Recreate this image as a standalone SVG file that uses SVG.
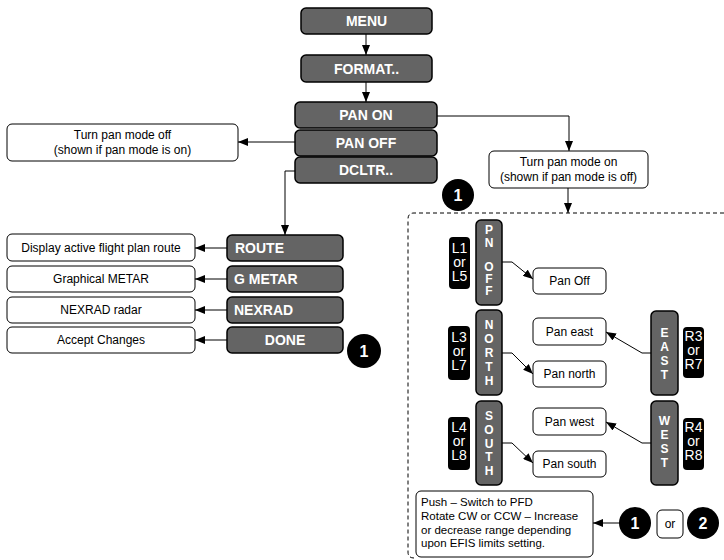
<svg xmlns="http://www.w3.org/2000/svg" width="724" height="560" viewBox="0 0 724 560">
<style>
.btn{fill:#646464;stroke:#000;stroke-width:1.5}
.bt{font-family:"Liberation Sans",Arial,sans-serif;font-weight:bold;font-size:14px;fill:#fff;text-anchor:middle}
.btl{font-family:"Liberation Sans",Arial,sans-serif;font-weight:bold;font-size:14px;fill:#fff}
.vt{font-family:"Liberation Sans",Arial,sans-serif;font-weight:bold;font-size:12px;fill:#fff;text-anchor:middle}
.box{fill:#fff;stroke:#000;stroke-width:1}
.tx{font-family:"Liberation Sans",Arial,sans-serif;font-size:12px;fill:#000;text-anchor:middle}
.txl{font-family:"Liberation Sans",Arial,sans-serif;font-size:11.5px;fill:#000}
.blk{fill:#000}
.kt{font-family:"Liberation Sans",Arial,sans-serif;font-size:14px;fill:#fff;text-anchor:middle}
.bd{font-family:"Liberation Sans",Arial,sans-serif;font-weight:bold;font-size:16px;fill:#fff;text-anchor:middle}
.ln{fill:none;stroke:#000;stroke-width:1;marker-end:url(#ah)}
</style>
<defs>
<marker id="ah" viewBox="0 0 10 8" refX="10" refY="4" markerWidth="10" markerHeight="8" markerUnits="userSpaceOnUse" orient="auto">
<path d="M0,0 L10,4 L0,8 Z" fill="#000"/>
</marker>
</defs>

<path d="M724,213 H414 Q408,213 408,219 V552 Q408,558 414,558" fill="none" stroke="#000" stroke-width="1" stroke-dasharray="4,3"/>

<g id="menu"><rect class="btn" x="301" y="8" width="131" height="26" rx="5"/><text class="bt" x="366.5" y="26">MENU</text></g>
<g id="format"><rect class="btn" x="301" y="55" width="131" height="27" rx="5"/><text class="bt" x="366.5" y="73.5">FORMAT..</text></g>
<g id="panon"><rect class="btn" x="295" y="102" width="142" height="26" rx="5"/><text class="bt" x="366" y="120">PAN ON</text></g>
<g id="panoff"><rect class="btn" x="295" y="130" width="142" height="26" rx="5"/><text class="bt" x="366" y="148">PAN OFF</text></g>
<g id="dcltr"><rect class="btn" x="295" y="157" width="142" height="26" rx="5"/><text class="bt" x="366" y="175">DCLTR..</text></g>

<g id="turnoff"><rect class="box" x="7" y="124" width="231" height="37" rx="5"/><text class="tx" x="122.5" y="139">Turn pan mode off<tspan x="122.5" y="154">(shown if pan mode is on)</tspan></text></g>
<g id="turnon"><rect class="box" x="489" y="151" width="159" height="37" rx="5"/><text class="tx" x="568.5" y="166">Turn pan mode on<tspan x="568.5" y="181">(shown if pan mode is off)</tspan></text></g>

<g id="route"><rect class="btn" x="227" y="235" width="116" height="26" rx="5"/><text class="btl" x="235" y="253">ROUTE</text></g>
<g id="gmetar"><rect class="btn" x="227" y="266" width="116" height="26" rx="5"/><text class="btl" x="234" y="284">G METAR</text></g>
<g id="nexrad"><rect class="btn" x="227" y="297" width="116" height="26" rx="5"/><text class="btl" x="234" y="315">NEXRAD</text></g>
<g id="done"><rect class="btn" x="227" y="327" width="116" height="26" rx="5"/><text class="bt" x="285" y="345">DONE</text></g>

<g id="t-route"><rect class="box" x="7" y="234" width="188" height="27" rx="5"/><text class="tx" x="101" y="252">Display active flight plan route</text></g>
<g id="t-gmetar"><rect class="box" x="7" y="266" width="188" height="26" rx="5"/><text class="tx" x="101" y="283">Graphical METAR</text></g>
<g id="t-nexrad"><rect class="box" x="7" y="297" width="188" height="26" rx="5"/><text class="tx" x="101" y="314">NEXRAD radar</text></g>
<g id="t-done"><rect class="box" x="7" y="327" width="188" height="26" rx="5"/><text class="tx" x="101" y="344">Accept Changes</text></g>

<g id="badge1a"><circle class="blk" cx="364" cy="351" r="17"/><text class="bd" x="364" y="357">1</text></g>
<g id="badge1b"><circle class="blk" cx="458" cy="195" r="16"/><text class="bd" x="458" y="201">1</text></g>

<g id="pnoff"><rect class="btn" x="476" y="220" width="26" height="85" rx="5"/>
<text class="vt" x="489" y="234">P<tspan x="489" y="247">N</tspan><tspan x="489" y="271">O</tspan><tspan x="489" y="283">F</tspan><tspan x="489" y="295">F</tspan></text></g>
<g id="north"><rect class="btn" x="476" y="310" width="26" height="85" rx="5"/>
<text class="vt" x="489" y="329">N<tspan x="489" y="343">O</tspan><tspan x="489" y="357">R</tspan><tspan x="489" y="371">T</tspan><tspan x="489" y="385">H</tspan></text></g>
<g id="south"><rect class="btn" x="476" y="401" width="26" height="84" rx="5"/>
<text class="vt" x="489" y="420">S<tspan x="489" y="434">O</tspan><tspan x="489" y="448">U</tspan><tspan x="489" y="461">T</tspan><tspan x="489" y="475">H</tspan></text></g>
<g id="east"><rect class="btn" x="651" y="311" width="27" height="84" rx="5"/>
<text class="vt" x="664.5" y="337">E<tspan x="664.5" y="351">A</tspan><tspan x="664.5" y="365">S</tspan><tspan x="664.5" y="379">T</tspan></text></g>
<g id="west"><rect class="btn" x="651" y="401" width="27" height="84" rx="5"/>
<text class="vt" x="664.5" y="425">W<tspan x="664.5" y="439">E</tspan><tspan x="664.5" y="453">S</tspan><tspan x="664.5" y="467">T</tspan></text></g>

<g id="k-l1"><rect class="blk" x="449" y="237" width="21" height="52" rx="4"/><text class="kt" x="459.5" y="253">L1<tspan x="459.5" y="267">or</tspan><tspan x="459.5" y="281">L5</tspan></text></g>
<g id="k-l3"><rect class="blk" x="448" y="326" width="22" height="54" rx="4"/><text class="kt" x="459" y="342">L3<tspan x="459" y="356">or</tspan><tspan x="459" y="370">L7</tspan></text></g>
<g id="k-l4"><rect class="blk" x="448" y="417" width="22" height="53" rx="4"/><text class="kt" x="459" y="432">L4<tspan x="459" y="446">or</tspan><tspan x="459" y="460">L8</tspan></text></g>
<g id="k-r3"><rect class="blk" x="683" y="327" width="21" height="51" rx="4"/><text class="kt" x="693.5" y="341">R3<tspan x="693.5" y="355">or</tspan><tspan x="693.5" y="369">R7</tspan></text></g>
<g id="k-r4"><rect class="blk" x="683" y="418" width="21" height="52" rx="4"/><text class="kt" x="693.5" y="432">R4<tspan x="693.5" y="446">or</tspan><tspan x="693.5" y="460">R8</tspan></text></g>

<g id="p-off"><rect class="box" x="533" y="268" width="73" height="26" rx="5"/><text class="tx" x="569.5" y="285">Pan Off</text></g>
<g id="p-east"><rect class="box" x="533" y="318" width="73" height="27" rx="5"/><text class="tx" x="569.5" y="336">Pan east</text></g>
<g id="p-north"><rect class="box" x="533" y="361" width="73" height="26" rx="5"/><text class="tx" x="569.5" y="378">Pan north</text></g>
<g id="p-west"><rect class="box" x="533" y="408" width="73" height="27" rx="5"/><text class="tx" x="569.5" y="426">Pan west</text></g>
<g id="p-south"><rect class="box" x="533" y="451" width="73" height="26" rx="5"/><text class="tx" x="569.5" y="468">Pan south</text></g>

<g id="knob"><rect class="box" x="416" y="491" width="177" height="66" rx="5"/>
<text class="txl" x="421" y="506">Push – Switch to PFD<tspan x="421" y="520">Rotate CW or CCW  – Increase</tspan><tspan x="421" y="534">or decrease range depending</tspan><tspan x="421" y="547">upon EFIS limits setting.</tspan></text></g>
<g id="badge1c"><circle class="blk" cx="635" cy="523" r="16"/><text class="bd" x="635" y="529">1</text></g>
<g id="or"><rect class="box" x="657" y="510" width="26" height="28" rx="5"/><text class="tx" x="670" y="528">or</text></g>
<g id="badge2"><circle class="blk" cx="703" cy="523" r="16"/><text class="bd" x="703" y="529">2</text></g>

<g id="connectors">
<path class="ln" d="M366,34 V55"/>
<path class="ln" d="M366,82 V102"/>
<path class="ln" d="M437,116 H569 V151"/>
<path class="ln" d="M295,142 H238"/>
<path class="ln" d="M295,171 H285 V235"/>
<path class="ln" d="M568,188 V213"/>
<path class="ln" d="M227,248 H195"/>
<path class="ln" d="M227,279 H195"/>
<path class="ln" d="M227,310 H195"/>
<path class="ln" d="M227,340 H195"/>
<path class="ln" d="M502,262 H512 L533,279"/>
<path class="ln" d="M502,353 H512 L533,374"/>
<path class="ln" d="M502,443 H512 L533,463"/>
<path class="ln" d="M651,353 H642 L606,332"/>
<path class="ln" d="M651,443 H642 L606,422"/>
<path class="ln" d="M620,523 H593"/>
</g>
</svg>
